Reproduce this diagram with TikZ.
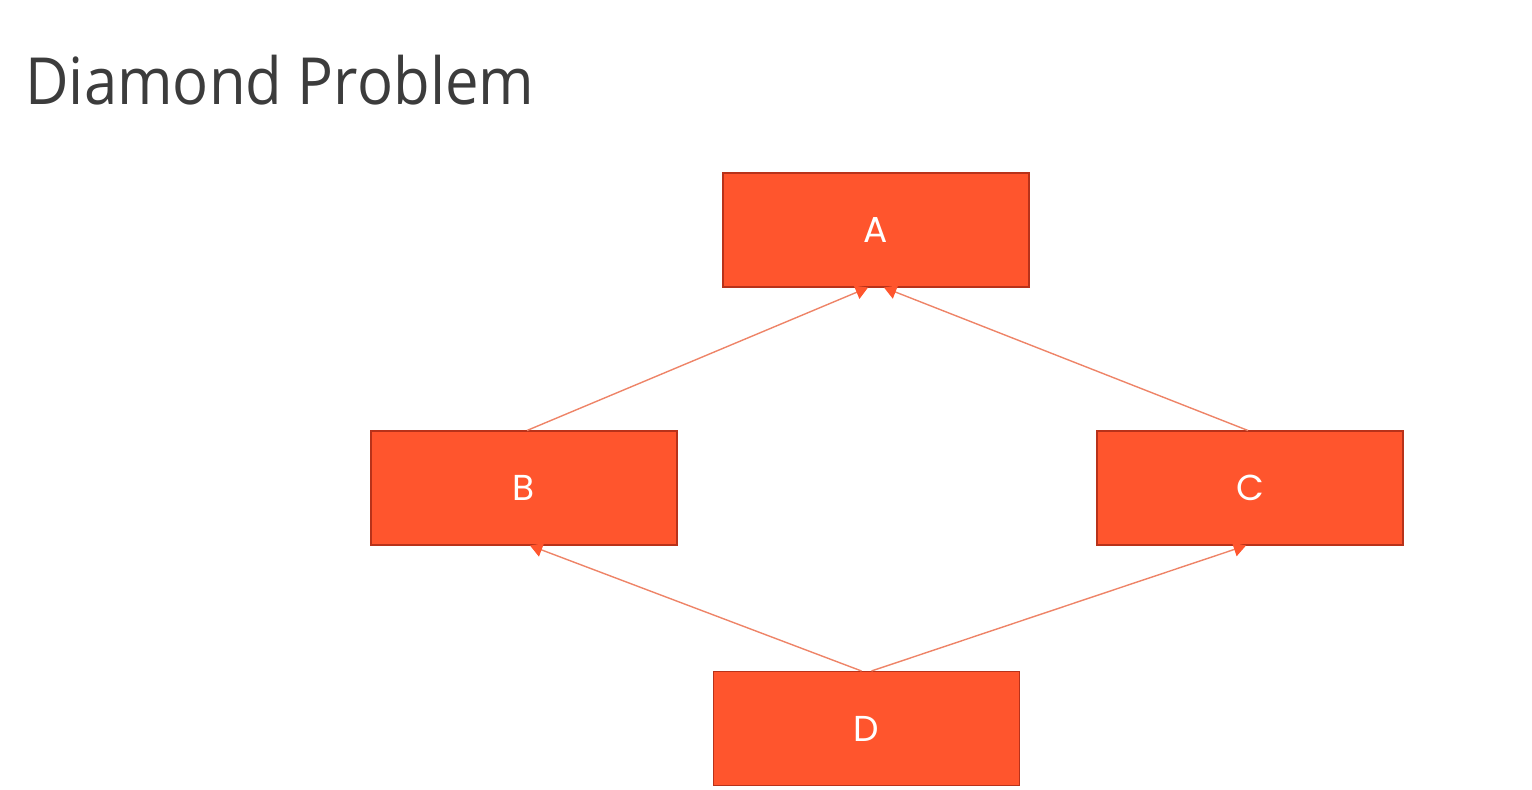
\documentclass[tikz,border=0pt]{standalone}
\usepackage{fontspec}
\setmainfont{Open Sans}
\newfontfamily\titlefont[FakeStretch=0.92]{Open Sans}
\newfontfamily\boxfont{Poppins}
\usetikzlibrary{arrows.meta}
\definecolor{boxfill}{HTML}{FF552D}
\definecolor{boxedge}{HTML}{B8321A}
\definecolor{linkcol}{HTML}{EE8468}
\definecolor{titlecol}{HTML}{3C3C3C}
\tikzset{
  cls/.style={draw=boxedge, line width=0.6pt, fill=boxfill, minimum width=306*0.02cm, minimum height=114*0.02cm, inner sep=0pt, text=white, font=\boxfont\fontsize{20.5}{22}\selectfont},
  link/.style={draw=linkcol, line width=0.8pt, -{Triangle[length=7pt,width=8pt,fill=boxfill,color=boxfill]}}
}
\begin{document}
\begin{tikzpicture}[x=0.02cm,y=-0.02cm]
\useasboundingbox (0,0) rectangle (1532,789);
\node[anchor=base west, text=titlecol, font=\titlefont\fontsize{37}{40}\selectfont, inner sep=0pt] (title) at (25,104) {Diamond Problem};
\node[cls] (A) at (876,230) {A};
\node[cls] (B) at (524,488) {B};
\node[cls] (C) at (1250,488) {C};
\node[cls] (D) at (866.5,728.5) {D};
\draw[link] ([xshift=3*0.02cm]B.north) -- ([xshift=-8*0.02cm]A.south);
\draw[link] ([xshift=-2*0.02cm]C.north) -- ([xshift=8*0.02cm]A.south);
\draw[link] ([xshift=-5*0.02cm]D.north) -- ([xshift=6*0.02cm]B.south);
\draw[link] ([xshift=5*0.02cm]D.north) -- ([xshift=-4*0.02cm]C.south);
\end{tikzpicture}
\end{document}
